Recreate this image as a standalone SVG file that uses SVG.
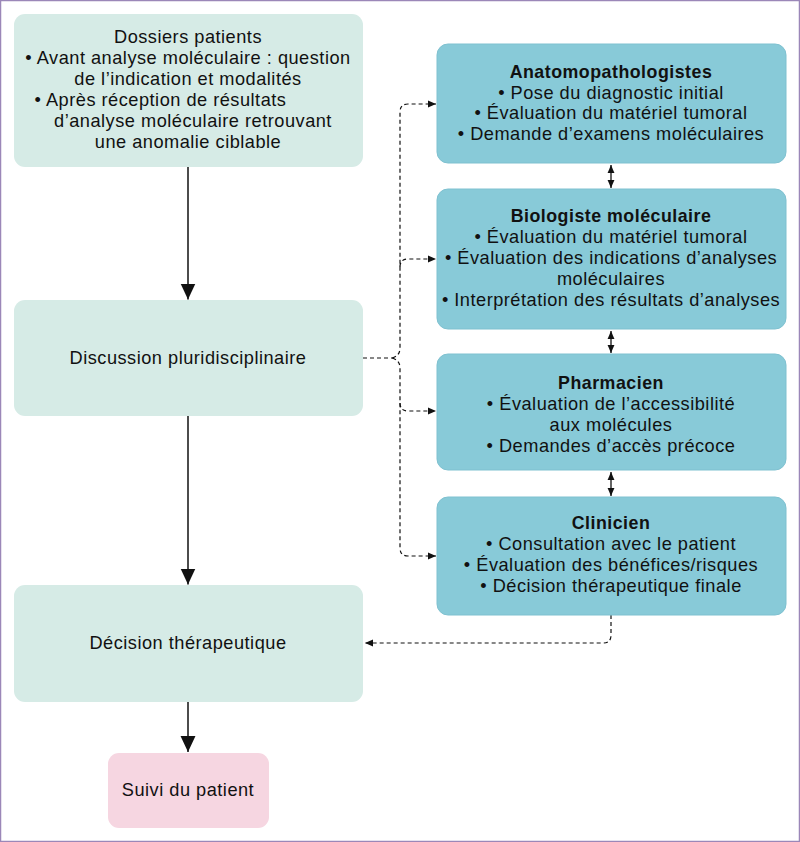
<svg xmlns="http://www.w3.org/2000/svg" width="800" height="842" viewBox="0 0 800 842">
<style>
.lb{fill:#d6ebe6}
.rb{fill:#88cad8;stroke:#7fc1d0;stroke-width:1}
.pk{fill:#f6d6e1}
text{font-family:"Liberation Sans",Arial,sans-serif;font-size:18.2px;letter-spacing:0.5px;fill:#111;text-anchor:middle}
.b{font-weight:bold;font-size:17.8px}
.sol{stroke:#111;stroke-width:1.5;fill:none}
.dsh{stroke:#111;stroke-width:1.2;fill:none;stroke-dasharray:4 3}
.dbl{stroke:#111;stroke-width:1.3;fill:none}
</style>
<defs>
<marker id="ah" markerUnits="userSpaceOnUse" markerWidth="16" markerHeight="16" viewBox="0 0 15 14" refX="15" refY="7" orient="auto"><path d="M0,0 L15,7 L0,14 Z" fill="#111"/></marker>
<marker id="dh" markerUnits="userSpaceOnUse" markerWidth="8" markerHeight="8" viewBox="0 0 7 6" refX="7" refY="3" orient="auto"><path d="M0,0 L7,3 L0,6 Z" fill="#111"/></marker>
<marker id="dhs" markerUnits="userSpaceOnUse" markerWidth="8" markerHeight="8" viewBox="0 0 7 6" refX="7" refY="3" orient="auto-start-reverse"><path d="M0,0 L7,3 L0,6 Z" fill="#111"/></marker>
</defs>
<rect x="0.5" y="0.5" width="799" height="841" fill="#fff" stroke="#9b87b8" stroke-width="1.5"/>
<g id="connectors">
<line class="sol" x1="188" y1="167" x2="188" y2="299.5" marker-end="url(#ah)"/>
<line class="sol" x1="188" y1="416" x2="188" y2="584.5" marker-end="url(#ah)"/>
<line class="sol" x1="188" y1="702" x2="188" y2="752" marker-end="url(#ah)"/>
<line class="dbl" x1="611" y1="165" x2="611" y2="188" marker-start="url(#dhs)" marker-end="url(#dhs)"/>
<line class="dbl" x1="611" y1="331" x2="611" y2="353" marker-start="url(#dhs)" marker-end="url(#dhs)"/>
<line class="dbl" x1="611" y1="472" x2="611" y2="496" marker-start="url(#dhs)" marker-end="url(#dhs)"/>
<path class="dsh" d="M363,358 L392,358"/>
<path class="dsh" d="M392,358 Q400,356 400,348 L400,112 Q400,104 408,104 L436,104" marker-end="url(#dh)"/>
<path class="dsh" d="M400,267 Q400,259 408,259 L436,259" marker-end="url(#dh)"/>
<path class="dsh" d="M392,358 Q400,360 400,368 L400,548 Q400,556 408,556 L436,556" marker-end="url(#dh)"/>
<path class="dsh" d="M400,403 Q400,411 408,411 L436,411" marker-end="url(#dh)"/>
<path class="dsh" d="M611,615 L611,635 Q611,643 603,643 L365,643" marker-end="url(#dh)"/>
</g>
<g id="dossiers">
<rect class="lb" x="14" y="14" width="349" height="153" rx="11"/>
<text x="188" y="43">Dossiers patients<tspan x="188" dy="21">• Avant analyse moléculaire : question</tspan><tspan x="188" dy="21">de l’indication et modalités</tspan><tspan x="160.5" dy="21">• Après réception de résultats</tspan><tspan x="193" dy="21">d’analyse moléculaire retrouvant</tspan><tspan x="188" dy="21">une anomalie ciblable</tspan></text>
</g>
<g id="discussion">
<rect class="lb" x="14" y="300" width="349" height="116" rx="11"/>
<text x="188" y="364">Discussion pluridisciplinaire</text>
</g>
<g id="decision">
<rect class="lb" x="14" y="585" width="349" height="117" rx="11"/>
<text x="188" y="649">Décision thérapeutique</text>
</g>
<g id="suivi">
<rect class="pk" x="108" y="753" width="161" height="75" rx="11"/>
<text x="188" y="796">Suivi du patient</text>
</g>
<g id="anatomo">
<rect class="rb" x="437" y="44" width="349" height="119" rx="11"/>
<text x="611" y="78"><tspan class="b">Anatomopathologistes</tspan><tspan x="611" dy="20.5">• Pose du diagnostic initial</tspan><tspan x="611" dy="20.5">• Évaluation du matériel tumoral</tspan><tspan x="611" dy="20.5">• Demande d’examens moléculaires</tspan></text>
</g>
<g id="biologiste">
<rect class="rb" x="437" y="189" width="349" height="140" rx="11"/>
<text x="611" y="222"><tspan class="b">Biologiste moléculaire</tspan><tspan x="611" dy="21">• Évaluation du matériel tumoral</tspan><tspan x="611" dy="21">• Évaluation des indications d’analyses</tspan><tspan x="611" dy="21">moléculaires</tspan><tspan x="611" dy="21">• Interprétation des résultats d’analyses</tspan></text>
</g>
<g id="pharmacien">
<rect class="rb" x="437" y="354" width="349" height="116" rx="11"/>
<text x="611" y="389"><tspan class="b">Pharmacien</tspan><tspan x="611" dy="21">• Évaluation de l’accessibilité</tspan><tspan x="611" dy="21">aux molécules</tspan><tspan x="611" dy="21">• Demandes d’accès précoce</tspan></text>
</g>
<g id="clinicien">
<rect class="rb" x="437" y="497" width="349" height="118" rx="11"/>
<text x="611" y="529"><tspan class="b">Clinicien</tspan><tspan x="611" dy="21">• Consultation avec le patient</tspan><tspan x="611" dy="21">• Évaluation des bénéfices/risques</tspan><tspan x="611" dy="21">• Décision thérapeutique finale</tspan></text>
</g>
</svg>
